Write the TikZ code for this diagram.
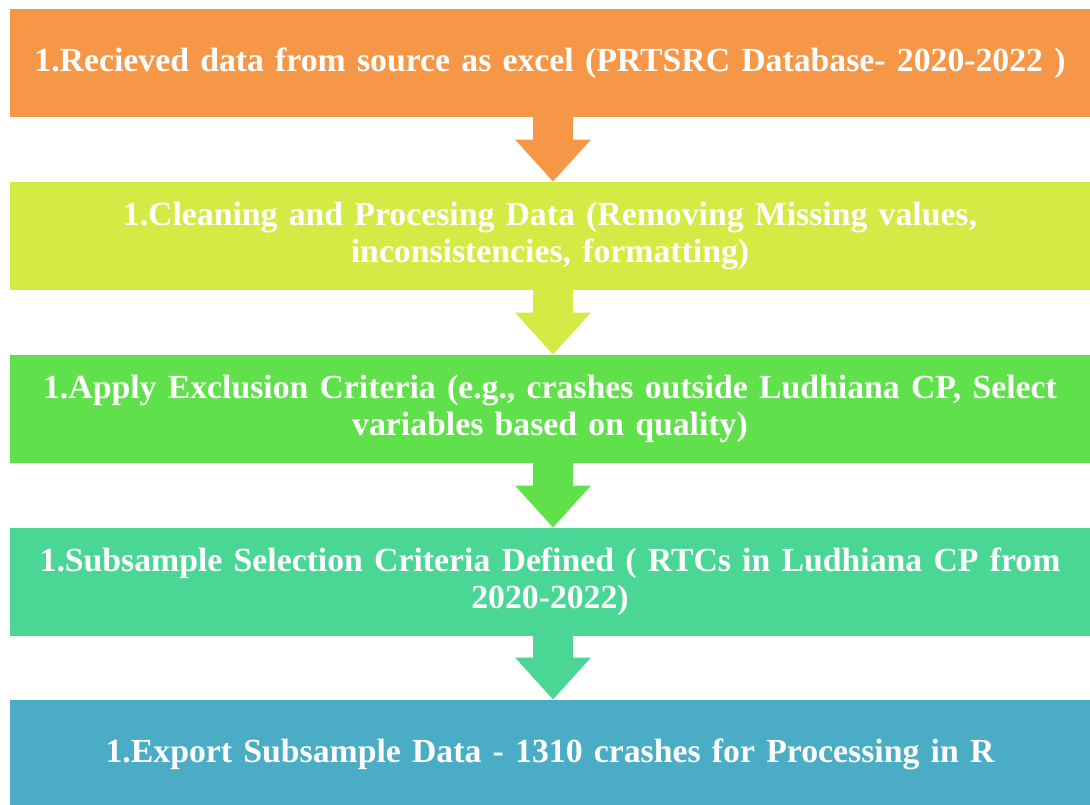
\documentclass[tikz,border=0pt]{standalone}
\usepackage{fontspec}
\setmainfont{Liberation Serif}
\usetikzlibrary{arrows.meta}
\usepackage{xcolor}
\definecolor{stepone}{HTML}{F69647}
\definecolor{steptwo}{HTML}{D4EB45}
\definecolor{stepthree}{HTML}{60E04A}
\definecolor{stepfour}{HTML}{4AD694}
\definecolor{stepfive}{HTML}{4BACC6}

\begin{document}
\begin{tikzpicture}[
    stage/.style={minimum width=21.6cm, minimum height=2.16cm, inner sep=0pt,
      text width=21.3cm, align=center, text=white,
      font=\fontsize{19.2}{21}\selectfont\bfseries},
    flow/.style={line width=0.8cm, -{Triangle[width=1.46cm, length=0.84cm]}}]
    \useasboundingbox (0,0) rectangle (21.8,-16.08);
    \node[stage, fill=stepone] (s1) at (11.0,-1.26)
      {1.Recieved data from source as excel (PRTSRC Database- 2020-2022 )};
    \node[stage, fill=steptwo] (s2) at (11.0,-4.72)
      {1.Cleaning and Procesing Data (Removing Missing values,\\ inconsistencies, formatting)};
    \node[stage, fill=stepthree] (s3) at (11.0,-8.18)
      {1.Apply Exclusion Criteria (e.g., crashes outside Ludhiana CP, Select\\ variables based on quality)};
    \node[stage, fill=stepfour] (s4) at (11.0,-11.64)
      {1.Subsample Selection Criteria Defined ( RTCs in Ludhiana CP from\\ 2020-2022)};
    \node[stage, fill=stepfive] (s5) at (11.0,-15.08)
      {1.Export Subsample Data - 1310 crashes for Processing in R};
    \draw[flow, stepone] ([xshift=0.06cm]s1.south) -- ([xshift=0.06cm]s2.north);
    \draw[flow, steptwo] ([xshift=0.06cm]s2.south) -- ([xshift=0.06cm]s3.north);
    \draw[flow, stepthree] ([xshift=0.06cm]s3.south) -- ([xshift=0.06cm]s4.north);
    \draw[flow, stepfour] ([xshift=0.06cm]s4.south) -- ([xshift=0.06cm]s5.north);
  \end{tikzpicture}
\end{document}
